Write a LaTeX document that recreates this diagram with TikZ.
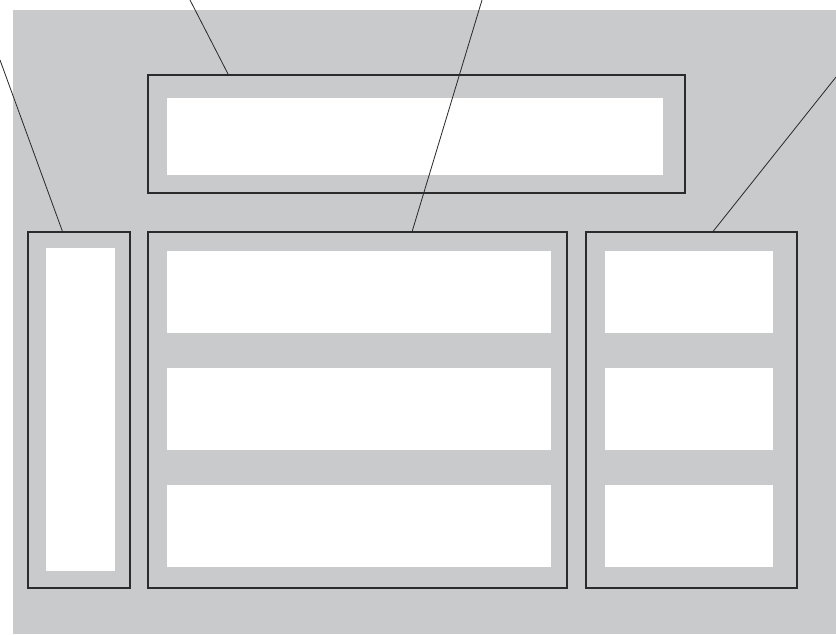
\documentclass[tikz,border=0pt]{standalone}
\usetikzlibrary{calc}
\definecolor{pageGrey}{HTML}{C9CACC}
\definecolor{frameDark}{HTML}{2B2B2B}

\begin{document}
\begin{tikzpicture}[x=0.3mm, y=-0.3mm,
    panel/.style={draw=frameDark, line width=1.2pt, outer sep=0pt, inner sep=0pt},
    slot/.style={fill=white, outer sep=0pt, inner sep=0pt},
    leader/.style={draw=frameDark, line width=0.7pt}]
    \useasboundingbox (0,0) rectangle (836,634);
    \fill[pageGrey] (13,10) rectangle (836,634);

    % header
    \node[panel, minimum width=161.1mm, minimum height=35.4mm] (header) at (416.5,134) {};
    \node[slot, minimum width=148.8mm, minimum height=23.1mm] (headerIn) at (415,136.5) {};

    % left column
    \node[panel, minimum width=30.6mm, minimum height=106.8mm] (leftbox) at (79,410) {};
    \node[slot, minimum width=20.7mm, minimum height=96.9mm] (leftIn) at (80.5,409.5) {};

    % main + right column
    \node[panel, minimum width=125.7mm, minimum height=106.8mm] (mainbox) at (357.5,410) {};
    \node[panel, minimum width=63.3mm, minimum height=106.8mm] (rightbox) at (691.5,410) {};
    \foreach \y/\n in {291.5/1, 409/2, 526/3} {
      \node[slot, minimum width=115.2mm, minimum height=24.6mm] (main\n) at (359,\y) {};
      \node[slot, minimum width=50.4mm, minimum height=24.6mm] (right\n) at (689,\y) {};
    }

    % leaders
    \coordinate (l1) at (0,60);
    \coordinate (l2) at (190,0);
    \coordinate (l3) at (482,0);
    \coordinate (l4) at (836,77);
    \foreach \c/\b/\t in {l1/leftbox/0.34, l2/header/0.15, l3/mainbox/0.63, l4/rightbox/0.60}
      \draw[leader] (\c) -- ($(\b.north west)!\t!(\b.north east)$);
\end{tikzpicture}
\end{document}
